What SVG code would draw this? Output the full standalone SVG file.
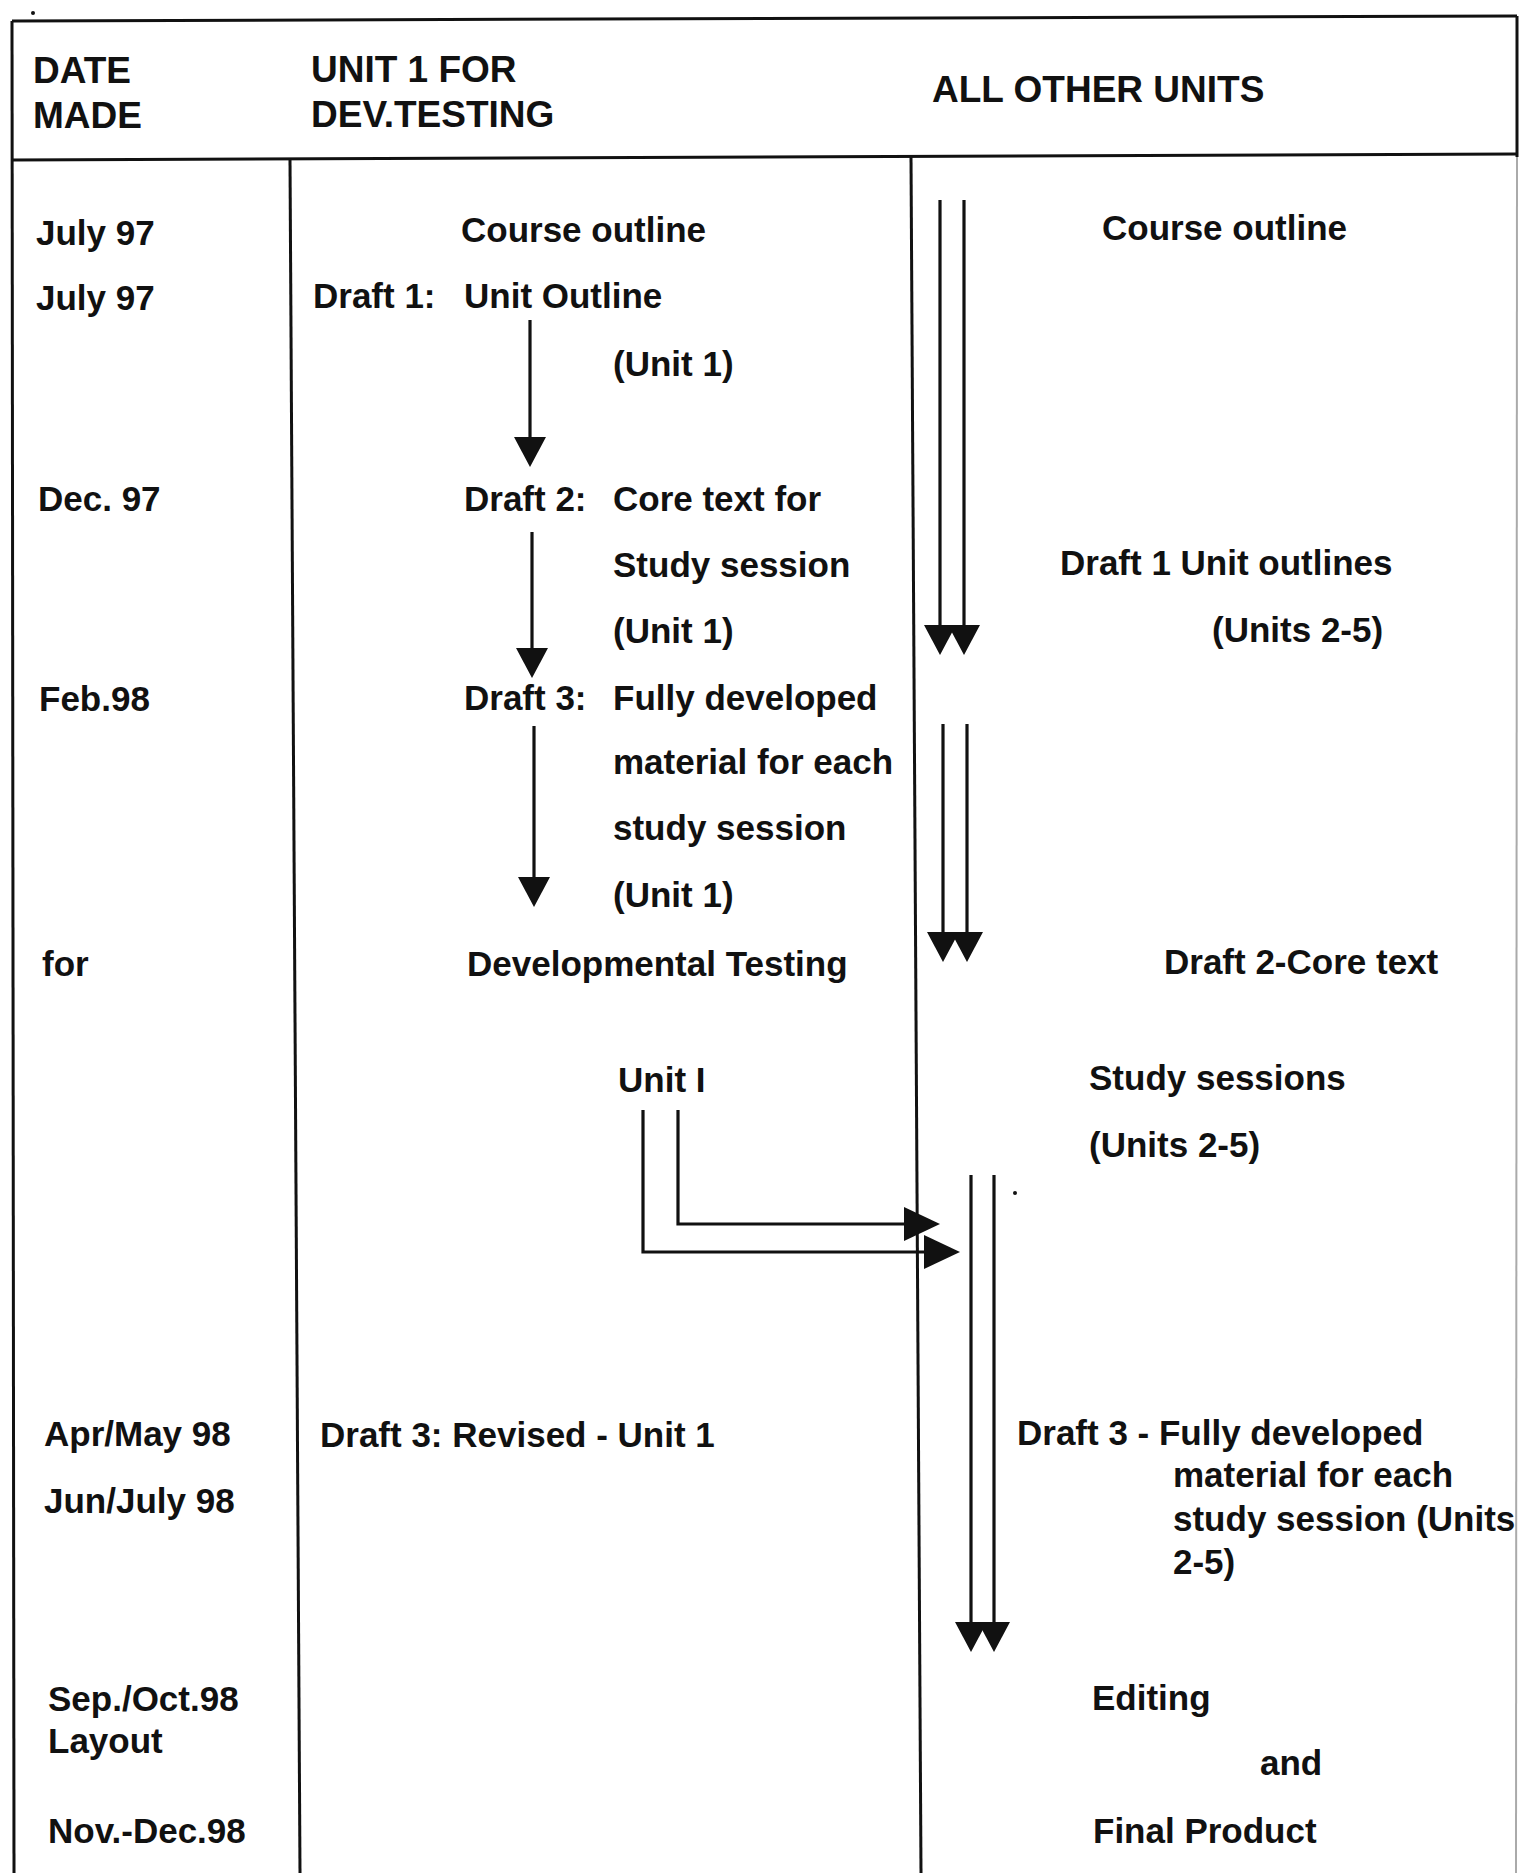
<svg xmlns="http://www.w3.org/2000/svg" width="1520" height="1873" viewBox="0 0 1520 1873">
<style>
  text{font-family:"Liberation Sans",Arial,sans-serif;font-weight:bold;font-size:35px;fill:#111;}
  .hd{font-size:37px;}
  .frame{stroke:#111;stroke-width:3;fill:none;}
  .conn{stroke:#111;stroke-width:3.2;fill:none;}
</style>
<defs>
  <marker id="ah" markerUnits="userSpaceOnUse" viewBox="0 0 30 32" markerWidth="30" markerHeight="32" refX="20" refY="16" orient="auto">
    <path d="M0,0 L30,16 L0,32 z" fill="#111"/>
  </marker>
  <marker id="ahh" markerUnits="userSpaceOnUse" viewBox="0 0 36 34" markerWidth="36" markerHeight="34" refX="26" refY="17" orient="auto">
    <path d="M0,0 L36,17 L0,34 z" fill="#111"/>
  </marker>
</defs>
<rect width="1520" height="1873" fill="#fff"/>

<g id="table">
  <line class="frame" x1="12" y1="21" x2="1517" y2="16"/>
  <line class="frame" x1="12" y1="21" x2="14" y2="1873"/>
  <line class="frame" x1="1517" y1="16" x2="1517" y2="157"/>
  <line x1="1517" y1="157" x2="1516" y2="1873" stroke="#aaa" stroke-width="2"/>
  <line class="frame" x1="12" y1="160" x2="1517" y2="154"/>
  <line class="frame" x1="290" y1="160" x2="300" y2="1873"/>
  <line class="frame" x1="911" y1="157" x2="921" y2="1873"/>
  <circle cx="33" cy="13" r="2" fill="#111"/>
  <circle cx="1015" cy="1193" r="2" fill="#111"/>
</g>

<g id="header">
  <text class="hd" x="33" y="83">DATE</text>
  <text class="hd" x="33" y="128">MADE</text>
  <text class="hd" x="311" y="82">UNIT 1 FOR</text>
  <text class="hd" x="311" y="127">DEV.TESTING</text>
  <text class="hd" x="932" y="102">ALL OTHER UNITS</text>
</g>

<g id="dates">
  <text x="36" y="245">July 97</text>
  <text x="36" y="310">July 97</text>
  <text x="38" y="511">Dec. 97</text>
  <text x="39" y="711">Feb.98</text>
  <text x="42" y="976">for</text>
  <text x="44" y="1446">Apr/May 98</text>
  <text x="44" y="1513">Jun/July 98</text>
  <text x="48" y="1711">Sep./Oct.98</text>
  <text x="48" y="1753">Layout</text>
  <text x="48" y="1843">Nov.-Dec.98</text>
</g>

<g id="unit1-course-outline"><text x="461" y="242">Course outline</text></g>
<g id="unit1-draft1">
  <text x="313" y="308">Draft 1:</text>
  <text x="464" y="308">Unit Outline</text>
  <text x="613" y="376">(Unit 1)</text>
</g>
<g id="unit1-draft2">
  <text x="464" y="511">Draft 2:</text>
  <text x="613" y="511">Core text for</text>
  <text x="613" y="577">Study session</text>
  <text x="613" y="643">(Unit 1)</text>
</g>
<g id="unit1-draft3">
  <text x="464" y="710">Draft 3:</text>
  <text x="613" y="710">Fully developed</text>
  <text x="613" y="774">material for each</text>
  <text x="613" y="840">study session</text>
  <text x="613" y="907">(Unit 1)</text>
</g>
<g id="unit1-devtesting"><text x="467" y="976">Developmental Testing</text></g>
<g id="unit1-unitI"><text x="618" y="1092">Unit I</text></g>
<g id="unit1-revised"><text x="320" y="1447">Draft 3: Revised - Unit 1</text></g>

<g id="other-course-outline"><text x="1102" y="240">Course outline</text></g>
<g id="other-draft1">
  <text x="1060" y="575">Draft 1 Unit outlines</text>
  <text x="1212" y="642">(Units 2-5)</text>
</g>
<g id="other-draft2">
  <text x="1164" y="974">Draft 2-Core text</text>
  <text x="1089" y="1090">Study sessions</text>
  <text x="1089" y="1157">(Units 2-5)</text>
</g>
<g id="other-draft3">
  <text x="1017" y="1445">Draft 3 - Fully developed</text>
  <text x="1173" y="1487">material for each</text>
  <text x="1173" y="1531">study session (Units</text>
  <text x="1173" y="1574">2-5)</text>
</g>
<g id="other-final">
  <text x="1092" y="1710">Editing</text>
  <text x="1260" y="1775">and</text>
  <text x="1093" y="1843">Final Product</text>
</g>

<g id="connectors">
  <line class="conn" x1="530" y1="320" x2="530" y2="457" marker-end="url(#ah)"/>
  <line class="conn" x1="532" y1="532" x2="532" y2="668" marker-end="url(#ah)"/>
  <line class="conn" x1="534" y1="726" x2="534" y2="897" marker-end="url(#ah)"/>

  <line class="conn" x1="940" y1="200" x2="940" y2="645" marker-end="url(#ah)"/>
  <line class="conn" x1="964" y1="200" x2="964" y2="645" marker-end="url(#ah)"/>
  <line class="conn" x1="943" y1="724" x2="943" y2="952" marker-end="url(#ah)"/>
  <line class="conn" x1="967" y1="724" x2="967" y2="952" marker-end="url(#ah)"/>
  <line class="conn" x1="971" y1="1175" x2="971" y2="1642" marker-end="url(#ah)"/>
  <line class="conn" x1="994" y1="1175" x2="994" y2="1642" marker-end="url(#ah)"/>

  <path class="conn" d="M678,1110 V1224 H930" marker-end="url(#ahh)"/>
  <path class="conn" d="M643,1110 V1252 H950" marker-end="url(#ahh)"/>
</g>
</svg>
